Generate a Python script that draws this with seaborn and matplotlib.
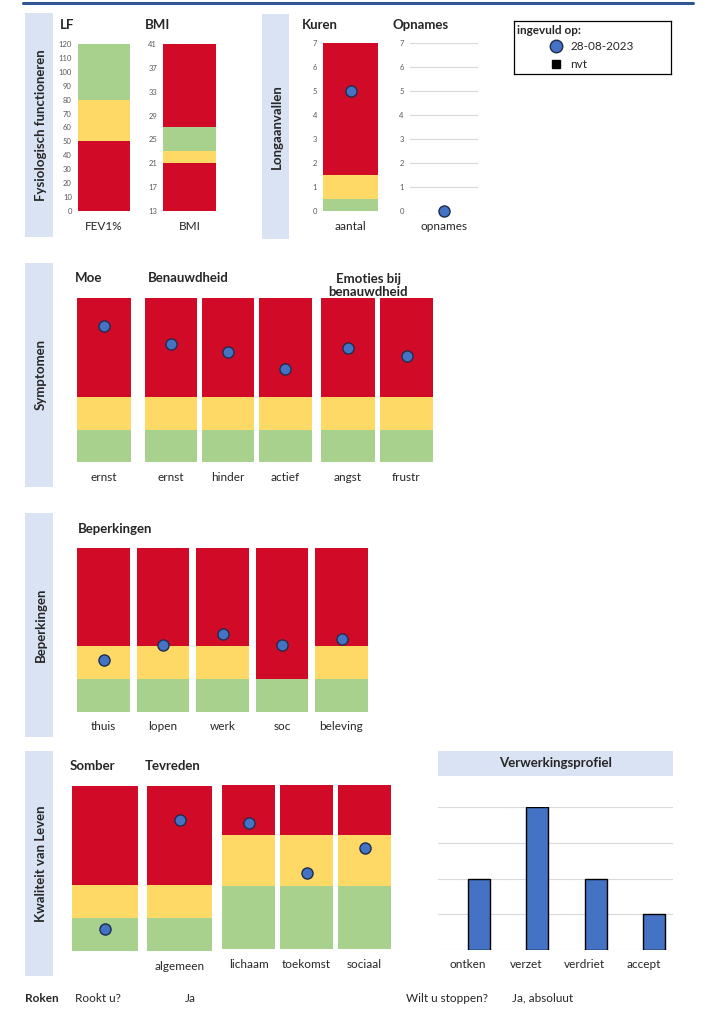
import seaborn as sns
import matplotlib.pyplot as plt
from matplotlib.lines import Line2D

sns.set_style('white')
plt.rcParams['font.family'] = ['Lato', 'DejaVu Sans']

# ---- data ----
lf_cat = ['FEV1%']
lf_rood = [50]
lf_geel = [80]
lf_groen = [120]
lf_ticks = [0, 10, 20, 30, 40, 50, 60, 70, 80, 90, 100, 110, 120]

bmi_cat = ['BMI']
bmi_rood_laag = [21]
bmi_geel = [23]
bmi_groen = [27]
bmi_rood_hoog = [41]
bmi_ticks = [13, 17, 21, 25, 29, 33, 37, 41]

kuren_cat = ['aantal']
kuren_groen = [0.5]
kuren_geel = [1.5]
kuren_rood = [7]
kuren_score = [5]
opnames_cat = ['opnames']
opnames_score = [0]
aantal_ticks = [0, 1, 2, 3, 4, 5, 6, 7]

moe_cat = ['ernst']
moe_groen = [1]
moe_geel = [2]
moe_rood = [5]
moe_score = [4.15]

benauw_cat = ['ernst', 'hinder', 'actief']
benauw_groen = [1, 1, 1]
benauw_geel = [2, 2, 2]
benauw_rood = [5, 5, 5]
benauw_score = [3.62, 3.36, 2.83]

emoties_cat = ['angst', 'frustr']
emoties_groen = [1, 1]
emoties_geel = [2, 2]
emoties_rood = [5, 5]
emoties_score = [3.5, 3.25]

beperk_cat = ['thuis', 'lopen', 'werk', 'soc', 'beleving']
beperk_groen = [1, 1, 1, 1, 1]
beperk_geel = [2, 2, 2, 1, 2]
beperk_rood = [5, 5, 5, 5, 5]
beperk_score = [1.58, 2.03, 2.37, 2.03, 2.21]

somber_cat = ['somber']
somber_groen = [1]
somber_geel = [2]
somber_rood = [5]
somber_score = [0.68]

tevreden_cat = ['algemeen']
tevreden_groen = [1]
tevreden_geel = [2]
tevreden_rood = [5]
tevreden_score = [3.98]

kvl_cat = ['lichaam', 'toekomst', 'sociaal']
kvl_groen = [5, 5, 5]
kvl_geel = [9, 9, 9]
kvl_rood = [13, 13, 13]
kvl_score = [10, 6, 8]

verw_cat = ['ontken', 'verzet', 'verdriet', 'accept']
verw_score = [2, 4, 2, 1]
datum = '28-08-2023'

# ---- style ----
RED = '#D10A28'
YELLOW = '#FFD966'
GREEN = '#A9D18E'
BLUE = '#4472C4'
EDGE = '#1F2D4D'
SIDE = '#DAE3F3'
GRID = '#D9D9D9'
TICKC = '#595959'
TITLE_FS = 9.5
LABEL_FS = 8.5
TICK_FS = 5.5

W, H = 712, 1030
fig = plt.figure(figsize=(W / 100, H / 100), dpi=100)


def px_axes(x0, y0, x1, y1):
    return fig.add_axes([x0 / W, 1 - y1 / H, (x1 - x0) / W, (y1 - y0) / H])


def px_text(x, y, s, **kw):
    kw.setdefault('va', 'center')
    kw.setdefault('ha', 'left')
    fig.text(x / W, 1 - y / H, s, **kw)


def banden(ax, cats, lagen, breedte):
    # tallest layer first, lower bands painted over it
    for tops, kleur in lagen:
        sns.barplot(x=cats, y=tops, color=kleur, width=breedte, saturation=1,
                    errorbar=None, linewidth=0, ax=ax)


def punten(ax, cats, scores):
    sns.stripplot(x=cats, y=scores, jitter=False, size=8, color=BLUE,
                  edgecolor=EDGE, linewidth=1, zorder=4, ax=ax)
    for c in ax.collections:
        c.set_clip_on(False)


def opmaak(ax, n, ymin, ymax):
    ax.set_xlim(-0.5, n - 0.5)
    ax.set_ylim(ymin, ymax)
    sns.despine(ax=ax, left=True, bottom=True)
    ax.set_yticks([])
    ax.set_xlabel('')
    ax.set_ylabel('')
    ax.set_facecolor('none')
    ax.tick_params(axis='x', length=0, pad=7, labelsize=LABEL_FS)


def as_ticks(ax, ticks):
    ax.set_yticks(ticks)
    ax.tick_params(axis='y', length=0, pad=4.5, labelsize=TICK_FS, labelcolor=TICKC)


def zijbalk(x0, y0, x1, y1, tekst):
    ax = px_axes(x0, y0, x1, y1)
    ax.set_facecolor(SIDE)
    ax.set_xticks([])
    ax.set_yticks([])
    for s in ax.spines.values():
        s.set_visible(False)
    ax.text(0.56, 0.5, tekst, rotation=90, ha='center', va='center',
            fontweight='bold', fontsize=TITLE_FS, transform=ax.transAxes)


fig.add_artist(Line2D([22.7 / W, 693 / W], [1 - 2.5 / H, 1 - 2.5 / H],
                      color='#2F5597', lw=2.2))

# ---- Fysiologisch functioneren ----
zijbalk(25, 13.3, 52.7, 237.3, 'Fysiologisch functioneren')
px_text(60, 25, 'LF', fontweight='bold', fontsize=TITLE_FS)
px_text(145, 25, 'BMI', fontweight='bold', fontsize=TITLE_FS)

ax = px_axes(78, 43.7, 130, 211.3)
banden(ax, lf_cat, [(lf_groen, GREEN), (lf_geel, YELLOW), (lf_rood, RED)], 1)
opmaak(ax, 1, 0, 120)
as_ticks(ax, lf_ticks)

ax = px_axes(163.3, 43.7, 216, 211.3)
banden(ax, bmi_cat, [(bmi_rood_hoog, RED), (bmi_groen, GREEN), (bmi_geel, YELLOW),
                     (bmi_rood_laag, RED)], 1)
opmaak(ax, 1, 13, 41)
as_ticks(ax, bmi_ticks)

# ---- Longaanvallen ----
zijbalk(261.7, 14.3, 289.3, 238.7, 'Longaanvallen')
px_text(301.7, 25, 'Kuren', fontweight='bold', fontsize=TITLE_FS)
px_text(392.7, 25, 'Opnames', fontweight='bold', fontsize=TITLE_FS)

ax = px_axes(323.3, 43.3, 377.7, 211.3)
banden(ax, kuren_cat, [(kuren_rood, RED), (kuren_geel, YELLOW), (kuren_groen, GREEN)], 1)
punten(ax, kuren_cat, kuren_score)
opmaak(ax, 1, 0, 7)
as_ticks(ax, aantal_ticks)

ax = px_axes(410, 43.3, 478, 211.3)
punten(ax, opnames_cat, opnames_score)
opmaak(ax, 1, 0, 7)
as_ticks(ax, aantal_ticks)
ax.yaxis.grid(True, color=GRID, lw=0.8)
ax.set_axisbelow(True)

# legend box
lax = px_axes(514, 20.7, 670.7, 74)
lax.set_xticks([])
lax.set_yticks([])
for s in lax.spines.values():
    s.set_color('black')
    s.set_linewidth(0.9)
lax.text(3 / 156.7, 0.82, 'ingevuld op:', fontweight='bold', fontsize=LABEL_FS,
         va='center', ha='left', transform=lax.transAxes)
handles = [Line2D([], [], marker='o', ls='', color=BLUE, mec=EDGE, ms=9),
           Line2D([], [], marker='s', ls='', color='black', ms=6)]
lax.legend(handles, [datum, 'nvt'], loc='upper left',
           bbox_to_anchor=(545 / W, 1 - 36 / H), bbox_transform=fig.transFigure,
           frameon=False, handlelength=1, handletextpad=0.75, labelspacing=0.65,
           fontsize=LABEL_FS, borderaxespad=0)

# ---- Symptomen ----
zijbalk(25, 263.3, 52.7, 486.7, 'Symptomen')
px_text(75, 278, 'Moe', fontweight='bold', fontsize=TITLE_FS)
px_text(148, 278, 'Benauwdheid', fontweight='bold', fontsize=TITLE_FS)

ax = px_axes(77, 298.3, 131, 462.3)
banden(ax, moe_cat, [(moe_rood, RED), (moe_geel, YELLOW), (moe_groen, GREEN)], 1)
punten(ax, moe_cat, moe_score)
opmaak(ax, 1, 0, 5)

ax = px_axes(142.4, 298.3, 314.1, 462.3)
banden(ax, benauw_cat, [(benauw_rood, RED), (benauw_geel, YELLOW), (benauw_groen, GREEN)], 0.91)
punten(ax, benauw_cat, benauw_score)
opmaak(ax, 3, 0, 5)

ax = px_axes(318.75, 298.3, 435.75, 462.3)
banden(ax, emoties_cat, [(emoties_rood, RED), (emoties_geel, YELLOW), (emoties_groen, GREEN)], 0.92)
punten(ax, emoties_cat, emoties_score)
opmaak(ax, 2, 0, 5)
px_text(368, 285.5, 'Emoties bij\nbenauwdheid', ha='center', fontweight='bold',
        fontsize=TITLE_FS, linespacing=1.15, zorder=10)

# ---- Beperkingen ----
zijbalk(25, 513.3, 52.7, 737.3, 'Beperkingen')
px_text(78, 529, 'Beperkingen', fontweight='bold', fontsize=TITLE_FS)

ax = px_axes(73.75, 548.3, 371.25, 711.7)
banden(ax, beperk_cat, [(beperk_rood, RED), (beperk_geel, YELLOW), (beperk_groen, GREEN)], 0.89)
punten(ax, beperk_cat, beperk_score)
opmaak(ax, 5, 0, 5)

# ---- Kwaliteit van Leven ----
zijbalk(25, 751, 52.7, 975.7, 'Kwaliteit van Leven')
px_text(70, 766, 'Somber', fontweight='bold', fontsize=TITLE_FS)
px_text(145, 766, 'Tevreden', fontweight='bold', fontsize=TITLE_FS)

ax = px_axes(72, 786, 138, 951.3)
banden(ax, somber_cat, [(somber_rood, RED), (somber_geel, YELLOW), (somber_groen, GREEN)], 1)
punten(ax, somber_cat, somber_score)
opmaak(ax, 1, 0, 5)
ax.set_xticklabels([])

ax = px_axes(147, 786, 212, 951.3)
banden(ax, tevreden_cat, [(tevreden_rood, RED), (tevreden_geel, YELLOW), (tevreden_groen, GREEN)], 1)
punten(ax, tevreden_cat, tevreden_score)
opmaak(ax, 1, 0, 5)

ax = px_axes(219.5, 784.7, 393.5, 949)
banden(ax, kvl_cat, [(kvl_rood, RED), (kvl_geel, YELLOW), (kvl_groen, GREEN)], 0.914)
punten(ax, kvl_cat, kvl_score)
opmaak(ax, 3, 0, 13)

# ---- Verwerkingsprofiel ----
tax = px_axes(438.3, 751, 672.7, 775.7)
tax.set_facecolor(SIDE)
tax.set_xticks([])
tax.set_yticks([])
for s in tax.spines.values():
    s.set_visible(False)
tax.text(0.5, 0.5, 'Verwerkingsprofiel', ha='center', va='center',
         fontweight='bold', fontsize=TITLE_FS, transform=tax.transAxes)

ax = px_axes(438.3, 807.3, 672.7, 949.7)
# empty 'nvt' slot keeps the Excel-like offset of the dated series
sns.barplot(x=verw_cat, y=verw_score, hue=[datum] * len(verw_cat),
            hue_order=['nvt', datum], palette={datum: BLUE, 'nvt': 'black'},
            dodge=True, width=0.75, saturation=1, errorbar=None, edgecolor='black',
            linewidth=1, legend=False, ax=ax)
opmaak(ax, 4, 0, 4)
ax.set_yticks([0, 1, 2, 3, 4])
ax.tick_params(axis='y', length=0, labelleft=False)
ax.yaxis.grid(True, color=GRID, lw=0.8)
ax.set_axisbelow(True)

# ---- Roken ----
px_text(25, 998, 'Roken', fontweight='bold', fontsize=LABEL_FS)
px_text(75, 998, 'Rookt u?', fontsize=LABEL_FS)
px_text(185, 998, 'Ja', fontsize=LABEL_FS)
px_text(406, 998, 'Wilt u stoppen?', fontsize=LABEL_FS)
px_text(512, 998, 'Ja, absoluut', fontsize=LABEL_FS)

fig.savefig('out.png', dpi=100)
